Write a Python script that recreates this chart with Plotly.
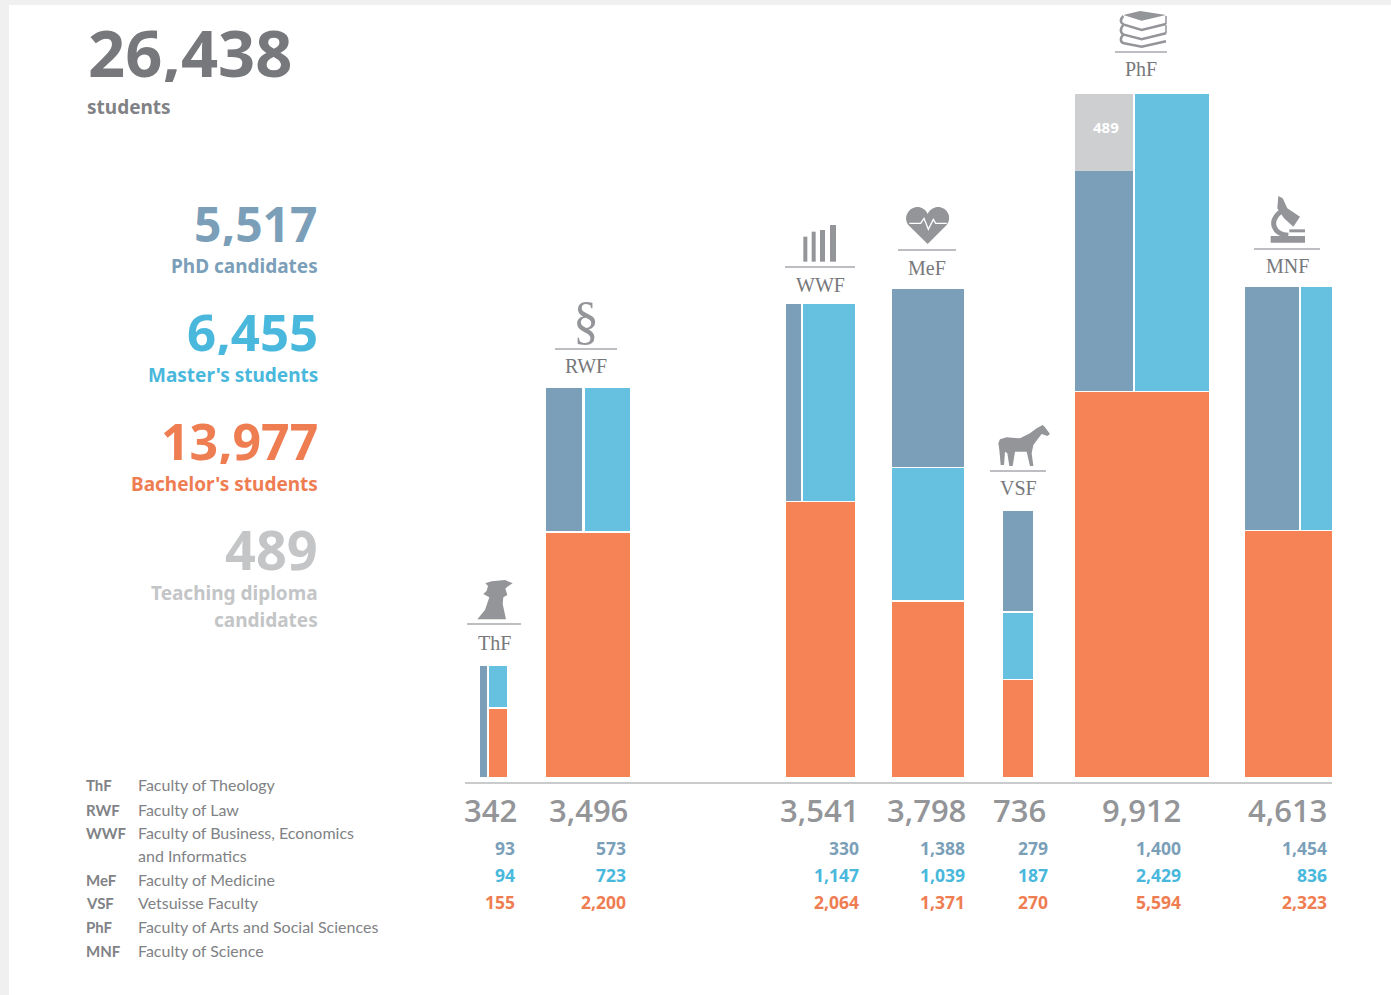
import re
import plotly.graph_objects as go

# ---------- data ----------
faculties = ["ThF", "RWF", "WWF", "MeF", "VSF", "PhF", "MNF"]
faculty_names = ["Faculty of Theology", "Faculty of Law", "Faculty of Business, Economics",
                 "Faculty of Medicine", "Vetsuisse Faculty",
                 "Faculty of Arts and Social Sciences", "Faculty of Science"]
totals = [342, 3496, 3541, 3798, 736, 9912, 4613]
phd = [93, 573, 330, 1388, 279, 1400, 1454]
master = [94, 723, 1147, 1039, 187, 2429, 836]
bachelor = [155, 2200, 2064, 1371, 270, 5594, 2323]
teaching = [0, 0, 0, 0, 0, 489, 0]
bar_span = [27, 84, 69, 72, 30, 134, 87]      # width channel of each faculty block
bar_extent = [111, 389, 473, 488, 266, 683, 490]  # height channel of each faculty block
summary_values = ["5,517", "6,455", "13,977", "489"]
summary_labels = ["PhD candidates", "Master's students", "Bachelor's students"]
grand_total = "26,438"

# ---------- layout / style ----------
W, H = 1391, 995
BASE_PX = 777
LEFT = [480, 546, 786, 892, 1003, 1075, 1245]
ARRANGE = ["side", "split", "split", "stack", "stack", "split", "split"]
GAP = 2.5
SEP = 1.5
C_PHD, C_MA, C_BA, C_TD = "#7b9fb9", "#66c1e0", "#f58356", "#cdcfd1"
T_PHD, T_MA, T_BA, T_TD = "#7b9fb9", "#49b8dc", "#ef7d52", "#c3c5c7"
GREY, ICON = "#77787b", "#939598"
SANS = "Noto Sans"
SEMI = "Open Sans"
SERIF = "Liberation Serif"
NARROW = "Lato"

segs = {k: {"x": [], "w": [], "b": [], "h": []} for k in ("phd", "master", "bachelor", "teaching")}


def add(key, left, width, base, height):
    s = segs[key]
    s["x"].append(left + width / 2)
    s["w"].append(width)
    s["b"].append(base)
    s["h"].append(height)


for i, kind in enumerate(ARRANGE):
    L, SPAN, EXT = LEFT[i], bar_span[i], bar_extent[i]
    tot = phd[i] + master[i] + bachelor[i] + teaching[i]
    if kind == "stack":
        h_ba = EXT * bachelor[i] / tot
        h_ma = EXT * master[i] / tot
        add("bachelor", L, SPAN, 0, h_ba - SEP / 2)
        add("master", L, SPAN, h_ba + SEP / 2, h_ma - SEP)
        add("phd", L, SPAN, h_ba + h_ma + SEP / 2, EXT - h_ba - h_ma - SEP / 2)
    elif kind == "split":
        h_ba = EXT * bachelor[i] / tot
        upper = EXT - h_ba
        left_part = phd[i] + teaching[i]
        share = left_part / (left_part + master[i])
        w_l = (SPAN - GAP) * share
        w_r = (SPAN - GAP) - w_l
        add("bachelor", L, SPAN, 0, h_ba - SEP / 2)
        h_phd = upper * phd[i] / left_part
        add("phd", L, w_l, h_ba + SEP / 2, h_phd - SEP / 2)
        if teaching[i]:
            add("teaching", L, w_l, h_ba + h_phd, upper - h_phd)
        add("master", L + w_l + GAP, w_r, h_ba + SEP / 2, upper - SEP / 2)
    else:  # narrow PhD column beside a stacked column
        share = phd[i] / tot
        w_l = (SPAN - GAP) * share
        w_r = SPAN - GAP - w_l
        h_ba = EXT * bachelor[i] / (bachelor[i] + master[i])
        add("phd", L, w_l, 0, EXT)
        add("bachelor", L + w_l + GAP, w_r, 0, h_ba - SEP / 2)
        add("master", L + w_l + GAP, w_r, h_ba + SEP / 2, EXT - h_ba - SEP / 2)

fig = go.Figure()
for key, color, name in (("bachelor", C_BA, "Bachelor's students"), ("master", C_MA, "Master's students"),
                         ("phd", C_PHD, "PhD candidates"), ("teaching", C_TD, "Teaching diploma candidates")):
    s = segs[key]
    fig.add_trace(go.Bar(x=s["x"], y=s["h"], base=s["b"], width=s["w"], name=name,
                         marker=dict(color=color, line=dict(width=0)), showlegend=False))

ann = []


def text(t, x, y, size, color, anchor="left", family=SANS, bold=False, weight=None, box=None):
    f = dict(family=family, size=size, color=color)
    if weight:
        f["weight"] = weight
    a = dict(text=f"<b>{t}</b>" if bold else t, x=x / W, y=1 - y / H, xref="paper", yref="paper",
             xanchor=anchor, yanchor="middle", showarrow=False, font=f, borderpad=0, borderwidth=0)
    if box:
        a["height"] = box
    ann.append(a)


# header block
text(grand_total, 88, 52, 65, GREY, bold=True, box=60)
text("students", 87, 107, 19, "#808285", bold=True)
for val, y, col, size in zip(summary_values, (223, 331, 441, 548), (T_PHD, T_MA, T_BA, T_TD), (48, 51, 50, 54)):
    text(val, 318, y, size, col, "right", bold=True, box=int(size * 0.95))
for lab, y, col in zip(summary_labels, (266, 375, 484), (T_PHD, T_MA, T_BA)):
    text(lab, 318, y, 19, col, "right", bold=True)
text("Teaching diploma", 318, 593, 19, T_TD, "right", bold=True)
text("candidates", 318, 620, 19, T_TD, "right", bold=True)

# faculty key
KEY_Y = [786, 811, 834, 881, 904, 928, 952]
for code, nm, y in zip(faculties, faculty_names, KEY_Y):
    text(code, 86, y - 1, 15, "#808285", family=NARROW, bold=True)
    text(nm, 138, y - 2, 16, "#808285", family=NARROW)
text("and Informatics", 138, 855, 16, "#808285", family=NARROW)

# numbers under the axis
RIGHT_TOTAL = [517, 628, 859, 966, 1046, 1181, 1327]
RIGHT_SUB = [515, 626, 859, 965, 1048, 1181, 1327]
for i in range(len(faculties)):
    text(f"{totals[i]:,}", RIGHT_TOTAL[i], 810, 31, ICON, "right", family=SEMI, weight=600)
    text(f"{phd[i]:,}", RIGHT_SUB[i], 848, 17.5, T_PHD, "right", bold=True)
    text(f"{master[i]:,}", RIGHT_SUB[i], 875, 17.5, T_MA, "right", bold=True)
    text(f"{bachelor[i]:,}", RIGHT_SUB[i], 902, 17.5, T_BA, "right", bold=True)
text("489", 1106, 127, 15, "#ffffff", "center", bold=True)

# faculty heads: code + rule
HEAD_X = [494, 586, 820, 927, 1018, 1141, 1287]
HEAD_Y = [643, 366, 285, 268, 488, 69, 266]
RULE_Y = [624, 349, 267, 250, 471, 52, 249]
RULE_HALF = [27, 31, 35, 29, 28, 26, 33]
for code, x, y in zip(faculties, HEAD_X, HEAD_Y):
    text(code, x, y, 20, "#77787b", "center", family=SERIF)
text("§", 586, 320, 52, ICON, "center", family="Liberation Serif")

shapes = [
    dict(type="rect", xref="paper", yref="paper", x0=0, x1=1, y0=1 - 5 / H, y1=1, line_width=0,
         fillcolor="#f0f0f0", layer="below"),
    dict(type="rect", xref="paper", yref="paper", x0=0, x1=9 / W, y0=0, y1=1, line_width=0,
         fillcolor="#f0f0f0", layer="below"),
    dict(type="line", xref="paper", yref="paper", x0=465 / W, x1=1332 / W, y0=1 - 783 / H, y1=1 - 783 / H,
         line=dict(color="#c9cbcd", width=2)),
]
for x, y, half in zip(HEAD_X, RULE_Y, RULE_HALF):
    shapes.append(dict(type="line", xref="paper", yref="paper", x0=(x - half) / W, x1=(x + half) / W,
                       y0=1 - y / H, y1=1 - y / H, line=dict(color="#a7a9ac", width=1.5)))


def icon(d, ox, oy, fill=ICON, stroke=None, width=0):
    """Icon outlines are sketched at 3x; scale them to page fractions."""
    nums = iter(re.findall(r"[A-Za-z]|-?\d+\.?\d*", d))
    out = []
    for tok in nums:
        if tok.isalpha():
            out.append(tok)
        else:
            px = ox + float(tok) / 3
            py = oy + float(next(nums)) / 3
            out.append(f"{px / W:.5f},{1 - py / H:.5f}")
    shapes.append(dict(type="path", xref="paper", yref="paper", path=" ".join(out),
                       fillcolor=fill if fill else "rgba(0,0,0,0)",
                       line=dict(color=stroke if stroke else "rgba(0,0,0,0)", width=width)))


# ThF bust
icon("M125 64 L165 60 L188 70 L172 80 L166 86 L172 105 L160 112 L158 132 L168 178 L82 178 L105 150 "
     "L118 112 L100 102 L110 92 L114 78 L106 70 Z", 450, 560)
# WWF columns
for x0, x1, top in ((100, 112, 140), (125, 137, 125), (150, 165, 120), (180, 198, 105)):
    icon(f"M{x0} 215 L{x1} 215 L{x1} {top} L{x0} {top} Z", 770, 190)
# MeF heart
icon("M473 162 L415 105 C395 75 425 45 450 52 C462 55 470 65 473 72 C476 65 484 55 497 52 "
     "C522 45 552 75 530 105 Z", 770, 190)
icon("M418 100 L452 100 L462 85 L475 118 L490 88 L497 100 L530 100", 770, 190, fill=None, stroke="#ffffff", width=1.3)
# VSF horse
icon("M218 45 L225 52 L240 72 L232 78 L215 72 L205 85 L190 105 L185 130 L190 168 L180 168 L170 125 L135 125 "
     "L128 168 L118 168 L112 130 L105 125 L102 165 L92 165 L88 120 L85 100 L90 88 L110 82 L150 85 L180 70 L200 55 Z",
     970, 410)
# PhF books
icon("M190 45 L240 33 L318 45 L245 62 Z", 1060, 0)
icon("M190 48 C178 60 182 70 192 74 L245 90 L318 72", 1060, 0, fill=None, stroke=ICON, width=2.5)
icon("M190 75 C178 88 182 100 192 104 L245 118 L318 100", 1060, 0, fill=None, stroke=ICON, width=2.5)
icon("M190 104 C178 116 182 128 192 130 L245 140 L318 124", 1060, 0, fill=None, stroke=ICON, width=2.5)
icon("M318 48 L318 72 M318 76 L318 100", 1060, 0, fill=None, stroke=ICON, width=1.5)
# MNF microscope
icon("M655 588 L668 595 L682 625 L720 650 L700 680 L672 655 L652 625 Z", 1060, 0)
icon("M662 635 C625 665 640 702 685 706", 1060, 0, fill=None, stroke=ICON, width=5)
icon("M632 708 L735 708 L735 728 L632 728 Z", 1060, 0)
icon("M688 688 L735 688 L735 697 L688 697 Z", 1060, 0)

fig.update_layout(
    width=W, height=H, margin=dict(l=0, r=0, t=0, b=0), autosize=False,
    paper_bgcolor="#ffffff", plot_bgcolor="rgba(0,0,0,0)", barmode="overlay", bargap=0,
    xaxis=dict(range=[0, W], visible=False, fixedrange=True),
    yaxis=dict(range=[BASE_PX - H, BASE_PX], visible=False, fixedrange=True),
    annotations=ann, shapes=shapes,
)
fig.write_html("out.html", post_script="document.body.style.margin='0';", config={"displayModeBar": False})
